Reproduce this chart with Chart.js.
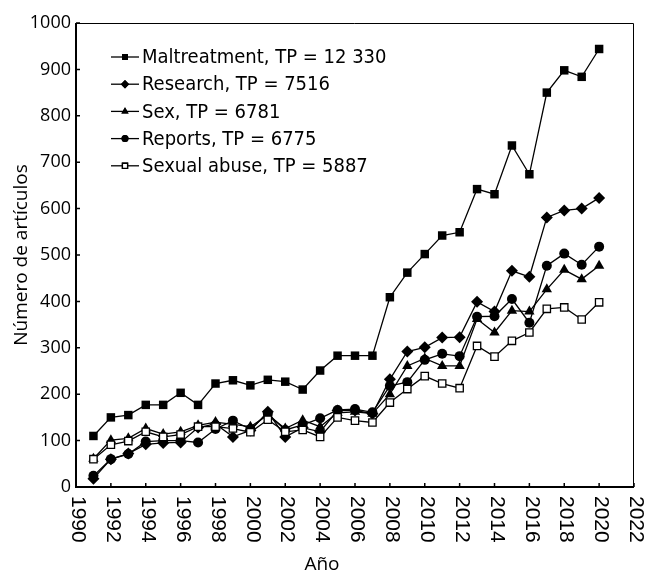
<!DOCTYPE html>
<html>
<head>
    <meta charset="utf-8">
    <title>Número de artículos por año</title>
    <script src="https://cdn.jsdelivr.net/npm/chart.js"></script>
    <style>
        body { margin: 0; background: #fff; }
        .chart-box { width: 647px; height: 575px; }
    </style>
</head>
<body>
    <div class="chart-box"><canvas id="chart"></canvas></div>
    <script>
        // Data
        const years = [1991, 1992, 1993, 1994, 1995, 1996, 1997, 1998, 1999, 2000,
                       2001, 2002, 2003, 2004, 2005, 2006, 2007, 2008, 2009, 2010,
                       2011, 2012, 2013, 2014, 2015, 2016, 2017, 2018, 2019, 2020];
        const maltreatment = [110, 150, 155, 177, 177, 203, 177, 223, 230, 219,
                              231, 227, 210, 251, 283, 283, 283, 409, 462, 502,
                              542, 549, 642, 631, 736, 674, 850, 898, 884, 944];
        const research = [18, 60, 72, 92, 95, 96, 128, 136, 108, 122,
                          162, 108, 128, 119, 165, 165, 158, 232, 292, 301,
                          322, 323, 399, 378, 466, 453, 581, 596, 600, 623];
        const sex = [61, 101, 105, 126, 114, 119, 133, 140, 135, 130,
                     155, 126, 144, 130, 160, 162, 158, 200, 261, 277,
                     261, 261, 362, 333, 380, 378, 426, 468, 448, 477];
        const reports = [24, 60, 71, 98, 100, 100, 96, 125, 143, 125,
                         158, 123, 134, 148, 166, 168, 161, 218, 226, 274,
                         287, 282, 367, 368, 405, 354, 477, 503, 479, 518];
        const sexualAbuse = [60, 91, 99, 119, 108, 113, 130, 130, 126, 118,
                             145, 119, 123, 108, 150, 143, 139, 182, 211, 239,
                             223, 213, 304, 281, 315, 333, 384, 387, 361, 398];
        const seriesLabels = ['Maltreatment, TP = 12 330', 'Research, TP = 7516',
                              'Sex, TP = 6781', 'Reports, TP = 6775', 'Sexual abuse, TP = 5887'];
        const xTicks = [1990, 1992, 1994, 1996, 1998, 2000, 2002, 2004, 2006,
                        2008, 2010, 2012, 2014, 2016, 2018, 2020, 2022];
        const yTicks = [0, 100, 200, 300, 400, 500, 600, 700, 800, 900, 1000];
        const xTitle = 'Año';
        const yTitle = 'Número de artículos';

        const legendFont = '20px "DejaVu Sans Condensed", "DejaVu Sans", sans-serif';
        const titleFont = '19px "Open Sans", sans-serif';

        // marker styles per series
        const markers = [
            { style: 'rect', radius: 6, fill: '#000', border: 0 },
            { style: 'rectRot', radius: 6, fill: '#000', border: 0 },
            { style: 'triangle', radius: 6, fill: '#000', border: 0 },
            { style: 'circle', radius: 5, fill: '#000', border: 0 },
            { style: 'rect', radius: 5.2, fill: '#fff', border: 1.3 }
        ];
        const seriesData = [maltreatment, research, sex, reports, sexualAbuse];

        const datasets = seriesData.map((vals, i) => ({
            label: seriesLabels[i],
            data: years.map((y, j) => ({ x: y, y: vals[j] })),
            borderColor: '#000',
            borderWidth: 1.3,
            pointStyle: markers[i].style,
            pointRadius: markers[i].radius,
            pointBackgroundColor: markers[i].fill,
            pointBorderColor: '#000',
            pointBorderWidth: markers[i].border,
            tension: 0,
            order: 5 - i
        }));

        // axes frame, inward ticks, rotated year labels, x title and legend
        const framePlugin = {
            id: 'frame',
            afterDraw(chart) {
                const ctx = chart.ctx;
                const a = chart.chartArea;
                const xs = chart.scales.x, ys = chart.scales.y;
                ctx.save();
                ctx.strokeStyle = '#000';

                // top + right thin border
                ctx.lineWidth = 1;
                ctx.beginPath();
                ctx.moveTo(a.left, a.top + 0.5);
                ctx.lineTo(a.right - 0.5, a.top + 0.5);
                ctx.lineTo(a.right - 0.5, a.bottom);
                ctx.stroke();

                // left + bottom axis
                ctx.lineWidth = 2;
                ctx.beginPath();
                ctx.moveTo(a.left, a.top);
                ctx.lineTo(a.left, a.bottom);
                ctx.lineTo(a.right, a.bottom);
                ctx.stroke();

                // inward tick marks
                ctx.lineWidth = 1.5;
                ctx.beginPath();
                yTicks.forEach(v => {
                    const py = ys.getPixelForValue(v);
                    ctx.moveTo(a.left, py);
                    ctx.lineTo(a.left + 4, py);
                });
                xTicks.forEach(v => {
                    const px = xs.getPixelForValue(v);
                    ctx.moveTo(px, a.bottom);
                    ctx.lineTo(px, a.bottom - 4);
                });
                ctx.stroke();

                // year labels, turned clockwise
                ctx.fillStyle = '#000';
                ctx.font = '21px "Liberation Sans", Arial, sans-serif';
                ctx.textAlign = 'left';
                ctx.textBaseline = 'middle';
                xTicks.forEach(v => {
                    const px = xs.getPixelForValue(v);
                    ctx.save();
                    ctx.translate(px + 2, a.bottom + 9);
                    ctx.rotate(Math.PI / 2);
                    ctx.fillText(String(v), 0, 0);
                    ctx.restore();
                });

                // x axis title
                ctx.font = titleFont;
                ctx.textAlign = 'center';
                ctx.fillText(xTitle, 322, 565);

                // legend
                ctx.font = legendFont;
                ctx.textAlign = 'left';
                seriesLabels.forEach((lbl, i) => {
                    const cy = 57 + i * 27.2;
                    ctx.lineWidth = 1.3;
                    ctx.beginPath();
                    ctx.moveTo(111, cy);
                    ctx.lineTo(139, cy);
                    ctx.stroke();
                    const m = markers[i];
                    ctx.fillStyle = m.fill;
                    ctx.lineWidth = m.border || 0;
                    Chart.helpers.drawPoint(ctx, {
                        pointStyle: m.style,
                        radius: m.radius * 0.7,
                        borderWidth: m.border
                    }, 125, cy);
                    ctx.fill();
                    if (m.border) ctx.stroke();
                    ctx.fillStyle = '#000';
                    ctx.fillText(lbl, 142, cy + 1);
                });
                ctx.restore();
            }
        };

        new Chart(document.getElementById('chart'), {
            type: 'line',
            data: { datasets },
            options: {
                responsive: true,
                maintainAspectRatio: false,
                animation: false,
                layout: { padding: { top: 23, right: 13, left: 0, bottom: 0 } },
                plugins: {
                    legend: { display: false },
                    tooltip: { enabled: false }
                },
                scales: {
                    x: {
                        type: 'linear',
                        min: 1990,
                        max: 2022,
                        grid: { display: false, drawTicks: false },
                        border: { display: false },
                        ticks: { display: false, stepSize: 2 },
                        afterFit(s) { s.height = 88; }
                    },
                    y: {
                        min: 0,
                        max: 1000,
                        grid: { display: false, drawTicks: false },
                        border: { display: false },
                        ticks: {
                            stepSize: 100,
                            color: '#000',
                            padding: 5,
                            font: { family: '"Open Sans", sans-serif', size: 18 },
                            callback: v => String(v)
                        },
                        title: {
                            display: true,
                            text: yTitle,
                            color: '#000',
                            font: { family: '"Open Sans", sans-serif', size: 19 },
                            padding: { top: 10, bottom: 0 }
                        },
                        afterFit(s) { s.width = 76; }
                    }
                }
            },
            plugins: [framePlugin]
        });
    </script>
</body>
</html>
